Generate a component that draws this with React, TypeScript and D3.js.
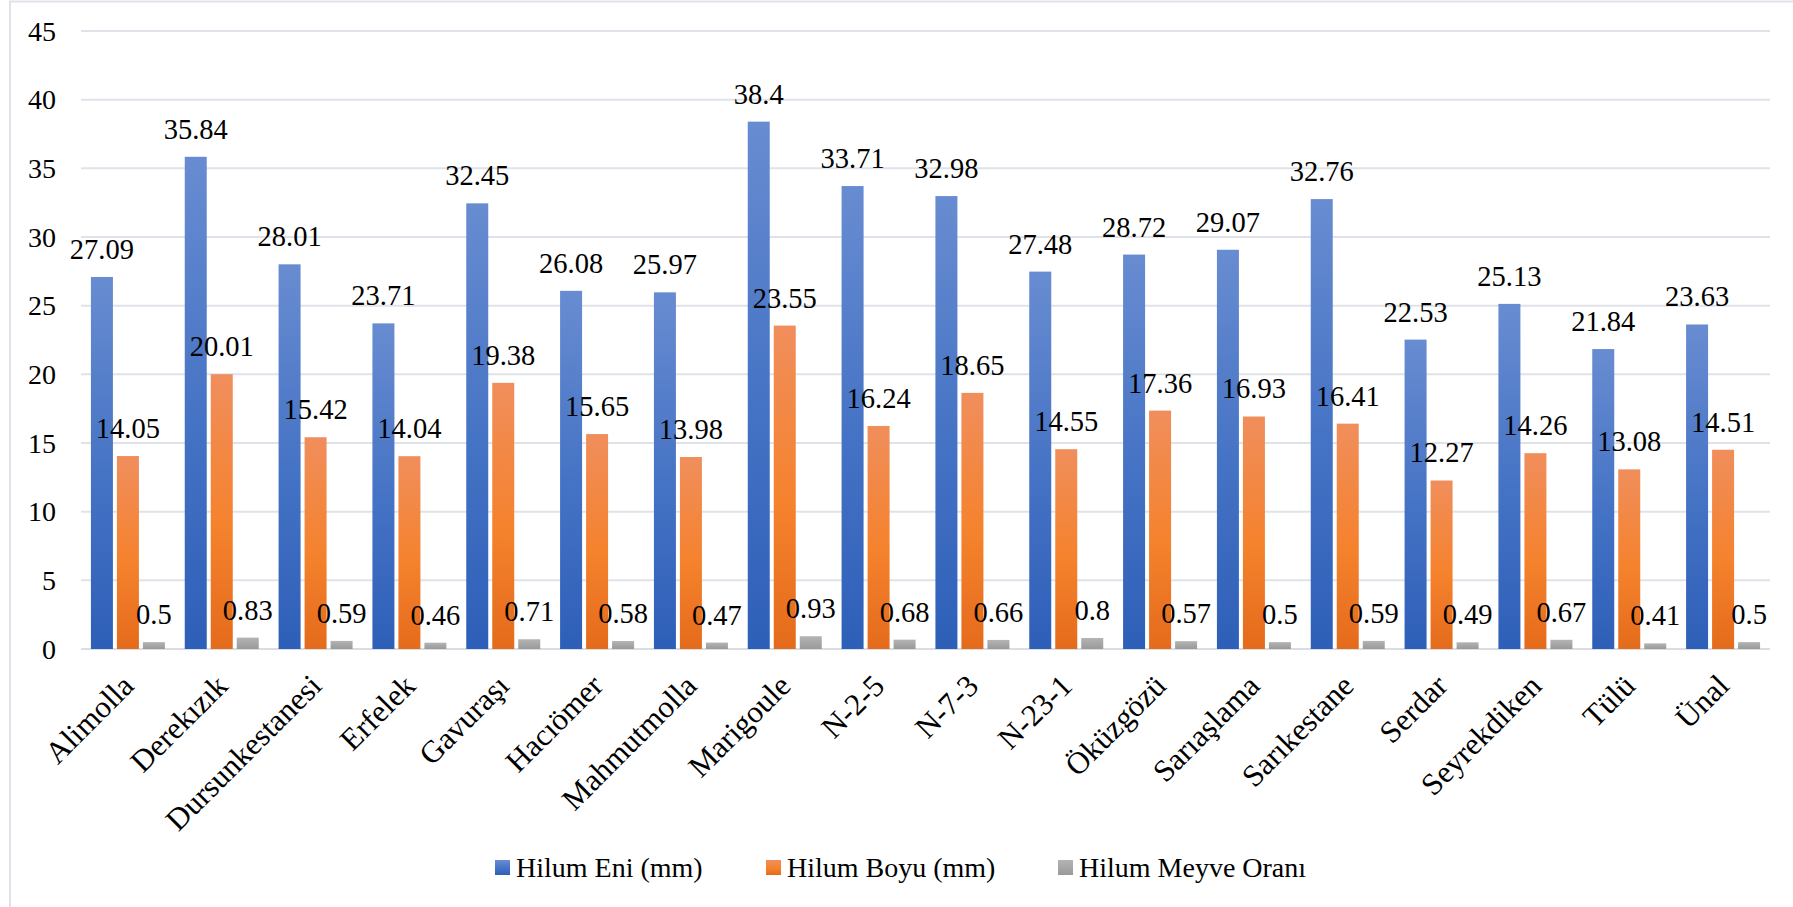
import * as d3 from "d3";
import { useEffect, useRef } from "react";

const categories = [
  "Alimolla", "Derekızık", "Dursunkestanesi", "Erfelek", "Gavuraşı", "Hacıömer",
  "Mahmutmolla", "Marigoule", "N-2-5", "N-7-3", "N-23-1", "Öküzgözü",
  "Sarıaşlama", "Sarıkestane", "Serdar", "Seyrekdiken", "Tülü", "Ünal",
];
const hilumEni = [27.09, 35.84, 28.01, 23.71, 32.45, 26.08, 25.97, 38.4, 33.71, 32.98, 27.48, 28.72, 29.07, 32.76, 22.53, 25.13, 21.84, 23.63];
const hilumBoyu = [14.05, 20.01, 15.42, 14.04, 19.38, 15.65, 13.98, 23.55, 16.24, 18.65, 14.55, 17.36, 16.93, 16.41, 12.27, 14.26, 13.08, 14.51];
const hilumOran = [0.5, 0.83, 0.59, 0.46, 0.71, 0.58, 0.47, 0.93, 0.68, 0.66, 0.8, 0.57, 0.5, 0.59, 0.49, 0.67, 0.41, 0.5];
const seriesNames = ["Hilum Eni (mm)", "Hilum Boyu (mm)", "Hilum Meyve Oranı"];
const yTicks = [0, 5, 10, 15, 20, 25, 30, 35, 40, 45];

const W = 1793;
const H = 907;
const plot = { left: 81, right: 1770, top: 31, bottom: 649 };
const font = "Liberation Serif, Tinos, Times New Roman, serif";
const gridColor = "#dfe3e9";

// three-stop vertical gradients like the office preset
const gradients = [
  { id: "g-blue", stops: ["#688cd1", "#4472c4", "#2e5fb8"] },
  { id: "g-orange", stops: ["#f08e5c", "#f5822d", "#e46b1b"] },
  { id: "g-gray", stops: ["#b4b4b4", "#a5a5a5", "#9a9a9a"] },
];
const legendX = [495, 766, 1058];

export default function App() {
  const svgRef = useRef<SVGSVGElement>(null);

  useEffect(() => {
    if (!svgRef.current) return;
    const svg = d3.select(svgRef.current);
    svg.selectAll("*").remove();

    const series = [hilumEni, hilumBoyu, hilumOran];

    const x0 = d3.scaleBand<string>()
      .domain(categories)
      .range([plot.left, plot.right]);

    const groupPad = (x0.bandwidth() - 74) / 2;
    const x1 = d3.scaleBand<number>()
      .domain([0, 1, 2])
      .range([groupPad, x0.bandwidth() - groupPad])
      .paddingInner(0.154);

    const y = d3.scaleLinear()
      .domain([0, 45])
      .range([plot.bottom, plot.top]);

    const defs = svg.append("defs");
    gradients.forEach((g) => {
      const lg = defs.append("linearGradient")
        .attr("id", g.id)
        .attr("x1", 0).attr("y1", 0)
        .attr("x2", 0).attr("y2", 1);
      lg.append("stop").attr("offset", "0%").attr("stop-color", g.stops[0]);
      lg.append("stop").attr("offset", "55%").attr("stop-color", g.stops[1]);
      lg.append("stop").attr("offset", "100%").attr("stop-color", g.stops[2]);
    });

    svg.append("rect").attr("width", W).attr("height", H).attr("fill", "#fff");

    // chart frame (only top and left edges are visible in the crop)
    svg.append("path")
      .attr("d", `M10,${H} L10,1.5 L${W},1.5`)
      .attr("fill", "none")
      .attr("stroke", gridColor)
      .attr("stroke-width", 2);

    // gridlines
    svg.append("g")
      .selectAll("line")
      .data(yTicks)
      .join("line")
      .attr("x1", plot.left)
      .attr("x2", plot.right)
      .attr("y1", (d) => y(d))
      .attr("y2", (d) => y(d))
      .attr("stroke", (d) => (d === 0 ? "#d9dde4" : gridColor))
      .attr("stroke-width", 2);

    const root = svg.append("g").style("font-family", font).attr("fill", "#000");

    // y tick labels
    root.append("g")
      .selectAll("text")
      .data(yTicks)
      .join("text")
      .attr("x", 56)
      .attr("y", (d) => y(d))
      .attr("dy", "0.34em")
      .attr("text-anchor", "end")
      .attr("font-size", 28)
      .text((d) => d);

    // bars
    const groups = root.append("g")
      .selectAll("g")
      .data(categories)
      .join("g")
      .attr("transform", (d) => `translate(${x0(d)},0)`);

    groups.each(function (_cat, i) {
      const g = d3.select(this);
      series.forEach((vals, s) => {
        const v = vals[i];
        g.append("rect")
          .attr("x", x1(s)!)
          .attr("y", y(v))
          .attr("width", x1.bandwidth())
          .attr("height", y(0) - y(v))
          .attr("fill", `url(#${gradients[s].id})`);
      });
      series.forEach((vals, s) => {
        const v = vals[i];
        g.append("text")
          .attr("x", x1(s)! + x1.bandwidth() / 2)
          .attr("y", y(v) - 18)
          .attr("text-anchor", "middle")
          .attr("font-size", 28.5)
          .text(v);
      });
    });

    // category labels, rotated
    root.append("g")
      .selectAll("text")
      .data(categories)
      .join("text")
      .attr("transform", (d) => `translate(${x0(d)! + x0.bandwidth() / 2},680) rotate(-45)`)
      .attr("dy", "0.35em")
      .attr("text-anchor", "end")
      .attr("font-size", 31)
      .text((d) => d);

    // legend
    const legend = root.append("g");
    seriesNames.forEach((name, s) => {
      legend.append("rect")
        .attr("x", legendX[s])
        .attr("y", 860)
        .attr("width", 15)
        .attr("height", 15)
        .attr("fill", `url(#${gradients[s].id})`);
      legend.append("text")
        .attr("x", legendX[s] + 21)
        .attr("y", 877)
        .attr("font-size", 28)
        .text(name);
    });
  }, []);

  return (
    <div style={{ position: "absolute", left: 0, top: 0, width: W, height: H, background: "#fff" }}>
      <svg ref={svgRef} width={W} height={H} style={{ display: "block" }}></svg>
    </div>
  );
}
